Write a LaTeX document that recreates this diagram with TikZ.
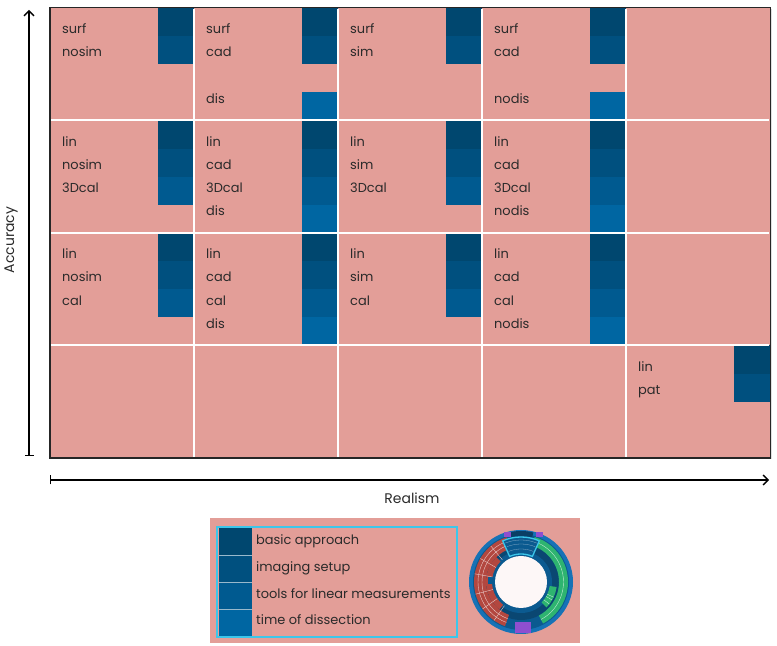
\documentclass[tikz,border=0pt]{standalone}
\usepackage{fontspec}
\setmainfont{Poppins}
\usepackage{xcolor}
\usetikzlibrary{arrows.meta, positioning, shadows}

\definecolor{cellpink}{HTML}{E39E98}
\definecolor{inkgray}{HTML}{2A2A2A}
\definecolor{stripe1}{HTML}{00476F}
\definecolor{stripe2}{HTML}{00507F}
\definecolor{stripe3}{HTML}{005A90}
\definecolor{stripe4}{HTML}{0066A2}
\definecolor{legendcyan}{HTML}{3CC6EA}
\definecolor{sunrim}{HTML}{1672B6}
\definecolor{sunblue}{HTML}{0B5A90}
\definecolor{sundark}{HTML}{0A3F66}
\definecolor{sunred}{HTML}{B3473F}
\definecolor{sungreen}{HTML}{2EB470}
\definecolor{sunpurple}{HTML}{8E4FCF}

\begin{document}
\begin{tikzpicture}[
    x=1bp, y=1bp,
    every node/.style={font=\fontsize{13}{15}\selectfont, text=inkgray},
    celltext/.style={anchor=mid west, inner sep=0pt},
    axislabel/.style={inner sep=0pt, font=\fontsize{14}{16}\selectfont},
    gridline/.style={white, line width=2bp},
    border/.style={draw=black!85, line width=1.5bp},
    axis/.style={line width=1.3bp, {Bar[width=9bp]}-{Straight Barb[length=5bp, width=10bp]}},
    sep/.style={draw=white!60!stripe2, line width=0.6bp}
]

\useasboundingbox (0,0) rectangle (777,646);

% Grid background
\node[fill=cellpink, inner sep=0pt, minimum width=720bp, minimum height=450bp, anchor=south west,
      drop shadow={opacity=0.25, shadow xshift=1.5bp, shadow yshift=-1.5bp}] (grid) at (50,188) {};

% Cell entries: column/row/slot/text
\foreach \c/\r/\k/\txt in {
    1/1/1/surf, 1/1/2/nosim,
    2/1/1/surf, 2/1/2/cad, 2/1/4/dis,
    3/1/1/surf, 3/1/2/sim,
    4/1/1/surf, 4/1/2/cad, 4/1/4/nodis,
    1/2/1/lin, 1/2/2/nosim, 1/2/3/3Dcal,
    2/2/1/lin, 2/2/2/cad, 2/2/3/3Dcal, 2/2/4/dis,
    3/2/1/lin, 3/2/2/sim, 3/2/3/3Dcal,
    4/2/1/lin, 4/2/2/cad, 4/2/3/3Dcal, 4/2/4/nodis,
    1/3/1/lin, 1/3/2/nosim, 1/3/3/cal,
    2/3/1/lin, 2/3/2/cad, 2/3/3/cal, 2/3/4/dis,
    3/3/1/lin, 3/3/2/sim, 3/3/3/cal,
    4/3/1/lin, 4/3/2/cad, 4/3/3/cal, 4/3/4/nodis,
    5/4/1/lin, 5/4/2/pat} {
    \pgfmathsetmacro{\xr}{194+144*(\c-1)}
    \pgfmathsetmacro{\yt}{638-112.5*(\r-1)-28.125*(\k-1)}
    \pgfmathsetmacro{\yl}{638-112.5*(\r-1)-23-23.2*(\k-1)}
    \fill[stripe\k] (\xr-36,\yt) rectangle (\xr,\yt-28.125);
    \node[celltext] (t\c\r\k) at (\xr-132,\yl) {\txt};
}

% White separators and frame
\foreach \x in {194,338,482,626}
    \draw[gridline] (\x,189) -- (\x,637);
\foreach \y in {525.5,413,300.5}
    \draw[gridline] (51,\y) -- (769,\y);
\draw[border] (grid.south west) rectangle (grid.north east);

% Axes
\coordinate (acc-lo) at (29,190);
\coordinate (acc-hi) at (29,636);
\coordinate (real-lo) at (50,166);
\coordinate (real-hi) at (769,166);
\draw[axis] (acc-lo) -- (acc-hi);
\draw[axis] (real-lo) -- (real-hi);
\node[axislabel, rotate=90] (accuracy) at (11,406) {Accuracy};
\node[axislabel] (realism) at (412,148) {Realism};

% Legend
\node[fill=cellpink, inner sep=0pt, minimum width=370bp, minimum height=125bp, anchor=south west] (legend) at (210,3) {};
\foreach \k/\txt in {1/basic approach, 2/imaging setup, 3/tools for linear measurements, 4/time of dissection} {
    \pgfmathsetmacro{\ys}{145-27*\k}
    \pgfmathsetmacro{\yl}{130.7-26.7*\k}
    \fill[stripe\k] (219,\ys) rectangle (252,\ys-27);
    \node[celltext] (leg\k) at (256,\yl) {\txt};
}
\foreach \y in {91,64,37}
    \draw[sep] (219,\y) -- (252,\y);
\draw[legendcyan, line width=2.4bp] (217,9) rectangle (457,119);

% Sunburst thumbnail
\begin{scope}[shift={(521,64)}]
    \fill[sunrim] (0,0) circle (52);
    \fill[sunblue] (0,0) circle (48);
    \fill[sundark!70!sunblue] (0,0) circle (38);
    \fill[sunblue] (0,0) circle (31);
    % red part
    \fill[sunred] (108:47) arc[start angle=108, end angle=250, radius=47] -- (250:35) arc[start angle=250, end angle=108, radius=35] -- cycle;
    \fill[sunred] (135:35) arc[start angle=135, end angle=232, radius=35] -- (232:29) arc[start angle=232, end angle=135, radius=29] -- cycle;
    \fill[sunblue] (172:33) rectangle (185:28);
    \foreach \rr in {39,43}
        \draw[white!70!sunred, line width=0.4bp] (108:\rr) arc[start angle=108, end angle=250, radius=\rr];
    \foreach \aa in {130,150,170,195,215,235}
        \draw[white!70!sunred, line width=0.4bp] (\aa:29) -- (\aa:47);
    % green part
    \fill[sungreen] (73:47) arc[start angle=73, end angle=-62, radius=47] -- (-62:38) arc[start angle=-62, end angle=73, radius=38] -- cycle;
    \fill[sungreen] (-8:36) arc[start angle=-8, end angle=-45, radius=36] -- (-45:29) arc[start angle=-45, end angle=-8, radius=29] -- cycle;
    \draw[white!70!sungreen, line width=0.4bp] (73:42.5) arc[start angle=73, end angle=-62, radius=42.5];
    \foreach \aa in {-25,-30,-38}
        \draw[white!70!sungreen, line width=0.4bp] (\aa:29) -- (\aa:36);
    % highlighted wedge
    \fill[sundark] (76:46) arc[start angle=76, end angle=104, radius=46] -- (104:51) arc[start angle=104, end angle=76, radius=51] -- cycle;
    \fill[sunblue] (66:45) arc[start angle=66, end angle=114, radius=45] -- (114:28) arc[start angle=114, end angle=66, radius=28] -- cycle;
    \foreach \rr in {33,38,42}
        \draw[white!50!sunblue, line width=0.3bp] (68:\rr) arc[start angle=68, end angle=112, radius=\rr];
    \draw[legendcyan, line width=1.3bp] (66:45) arc[start angle=66, end angle=114, radius=45] -- (114:28) arc[start angle=114, end angle=66, radius=28] -- cycle;
    % small purple marks
    \fill[sunpurple] (-17,45) rectangle (-10,50);
    \fill[sunpurple] (15,45) rectangle (22,50);
    \fill[sunpurple] (-6,-51) rectangle (10,-40);
    % hole
    \fill[white!92!cellpink] (0,0) circle (26);
\end{scope}

\end{tikzpicture}
\end{document}
